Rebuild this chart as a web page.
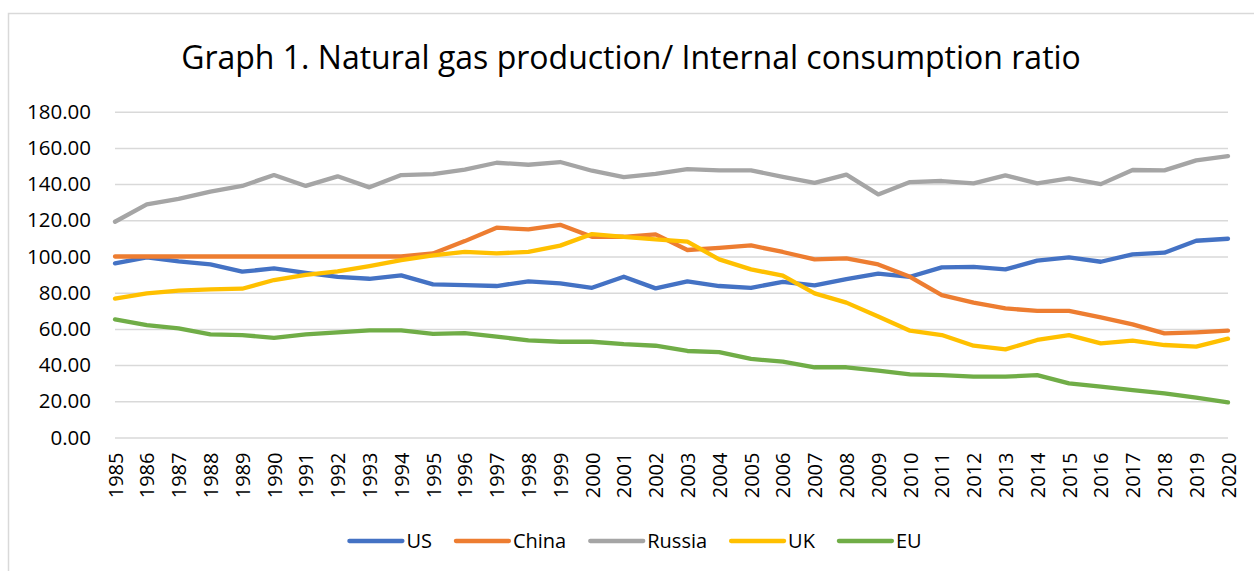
<!DOCTYPE html>
<html>
<head>
<meta charset="utf-8">
<script src="https://cdn.jsdelivr.net/npm/d3@7"></script>
<style>
  body { margin: 0; background: #fff; }
  text { font-family: 'Open Sans', 'Noto Sans', sans-serif; fill: #000; }
</style>
</head>
<body>
<div id="chart"></div>
<script>
// Data

var years = d3.range(1985, 2021).map(String)

var us = [96.2, 99.5, 97.3, 95.6, 91.6, 93.4, 91.0, 88.8, 87.7, 89.6, 84.6, 84.2,
  83.7, 86.3, 85.2, 82.7, 88.8, 82.4, 86.3, 83.7, 82.7, 86.0, 84.0, 87.5, 90.5,
  88.8, 94.0, 94.3, 92.9, 97.7, 99.5, 97.1, 101.2, 102.1, 108.7, 109.8]

var china = [100, 100, 100, 100, 100, 100, 100, 100, 100, 100, 101.7, 108.5,
  115.9, 115.0, 117.5, 110.9, 110.9, 112.2, 103.6, 104.8, 106.1, 102.5, 98.4,
  99.0, 95.6, 88.8, 78.7, 74.5, 71.3, 70.0, 70.0, 66.4, 62.5, 57.5, 58.1, 59.0]

var russia = [119.2, 128.8, 131.8, 135.8, 139.0, 145.0, 139.0, 144.3, 138.2,
  145.0, 145.5, 148.0, 151.8, 150.7, 152.2, 147.4, 143.9, 145.7, 148.3, 147.6,
  147.6, 144.0, 140.7, 145.2, 134.3, 141.1, 141.7, 140.4, 144.8, 140.4, 143.2,
  140.0, 147.8, 147.6, 153.1, 155.5]

var uk = [76.7, 79.6, 81.1, 81.8, 82.2, 87.0, 89.8, 91.8, 94.7, 98.0, 100.6,
  102.6, 101.7, 102.6, 106.0, 112.4, 110.9, 109.5, 108.2, 98.4, 92.9, 89.4,
  79.6, 74.5, 66.8, 59.0, 56.6, 50.7, 48.7, 53.9, 56.6, 52.0, 53.5, 51.1, 50.2, 54.6]

var eu = [65.3, 62.1, 60.3, 57.0, 56.6, 55.1, 57.0, 58.1, 59.2, 59.2, 57.2, 57.7,
  55.7, 53.7, 52.9, 52.9, 51.6, 50.7, 47.8, 47.2, 43.4, 41.9, 38.8, 38.8, 36.9,
  34.9, 34.5, 33.6, 33.6, 34.5, 29.9, 28.1, 26.2, 24.4, 22.0, 19.4]

var seriesNames = ['US', 'China', 'Russia', 'UK', 'EU']
var seriesValues = [us, china, russia, uk, eu]
var colors = ['#4472C4', '#ED7D31', '#A5A5A5', '#FFC000', '#70AD47']

var yTicks = [0, 20, 40, 60, 80, 100, 120, 140, 160, 180]

var titleText = 'Graph 1. Natural gas production/ Internal consumption ratio'

// Set up size

var width = 1254
var height = 571

var svg = d3
  .select('#chart')
  .append('svg')
  .attr('width', width)
  .attr('height', height)

// chart border
svg
  .append('rect')
  .attr('x', 8.5)
  .attr('y', 13.5)
  .attr('width', 1260)
  .attr('height', 600)
  .attr('fill', 'none')
  .attr('stroke', '#d9d9d9')
  .attr('stroke-width', 1.5)

// Scales

var xPositionScale = d3
  .scalePoint()
  .domain(years)
  .range([115, 1228])

var yPositionScale = d3
  .scaleLinear()
  .domain([0, 180])
  .range([437.5, 111.7])

// Title

svg
  .append('text')
  .text(titleText)
  .attr('x', 631)
  .attr('y', 69)
  .attr('font-size', 32)
  .attr('text-anchor', 'middle')

// Gridlines + y labels

var yAxis = d3
  .axisLeft(yPositionScale)
  .tickValues(yTicks)
  .tickSize(-(1228 - 115))
  .tickPadding(24)
  .tickFormat(d3.format('.2f'))

svg
  .append('g')
  .attr('class', 'axis y-axis')
  .attr('transform', 'translate(115,0)')
  .call(yAxis)
  .call(g => g.select('.domain').remove())
  .call(g =>
    g
      .selectAll('.tick line')
      .attr('stroke', '#d9d9d9')
      .attr('stroke-width', 1.5)
  )
  .call(g =>
    g
      .selectAll('.tick text')
      .attr('font-size', 20.5)
      .attr('font-family', "'Open Sans', sans-serif")
      .attr('fill', '#000')
  )

// X axis labels (rotated years)

var xAxis = d3
  .axisBottom(xPositionScale)
  .tickSize(0)
  .tickPadding(0)

svg
  .append('g')
  .attr('class', 'axis x-axis')
  .attr('transform', 'translate(0,437.5)')
  .call(xAxis)
  .call(g => g.select('.domain').remove())
  .call(g =>
    g
      .selectAll('.tick text')
      .attr('font-size', 20)
      .attr('font-family', "'Open Sans', sans-serif")
      .attr('fill', '#000')
      .attr('text-anchor', 'end')
      .attr('transform', 'translate(0,15) rotate(-90)')
      .attr('x', 0)
      .attr('y', 0)
      .attr('dy', '0.35em')
  )

// Lines

var line = d3
  .line()
  .x(function(d, i) {
    return xPositionScale(years[i])
  })
  .y(function(d) {
    return yPositionScale(d)
  })

svg
  .selectAll('.series')
  .data(seriesValues)
  .enter()
  .append('path')
  .attr('class', 'series')
  .attr('d', line)
  .attr('fill', 'none')
  .attr('stroke', (d, i) => colors[i])
  .attr('stroke-width', 4.3)
  .attr('stroke-linejoin', 'round')
  .attr('stroke-linecap', 'round')

// Legend

var legend = svg.append('g').attr('class', 'legend')
var lx = 0
seriesNames.forEach(function(name, i) {
  var item = legend.append('g').attr('transform', 'translate(' + lx + ',0)')
  item
    .append('line')
    .attr('x1', 0)
    .attr('x2', 53)
    .attr('y1', 0)
    .attr('y2', 0)
    .attr('stroke', colors[i])
    .attr('stroke-width', 4.3)
    .attr('stroke-linecap', 'round')
  var t = item
    .append('text')
    .text(name)
    .attr('x', 57)
    .attr('y', 0)
    .attr('dy', '0.35em')
    .attr('font-size', 20)
  lx += 57 + t.node().getComputedTextLength() + 24
})
var legendWidth = lx - 24
legend.attr('transform', 'translate(' + (635.5 - legendWidth / 2) + ',541)')
</script>
</body>
</html>
